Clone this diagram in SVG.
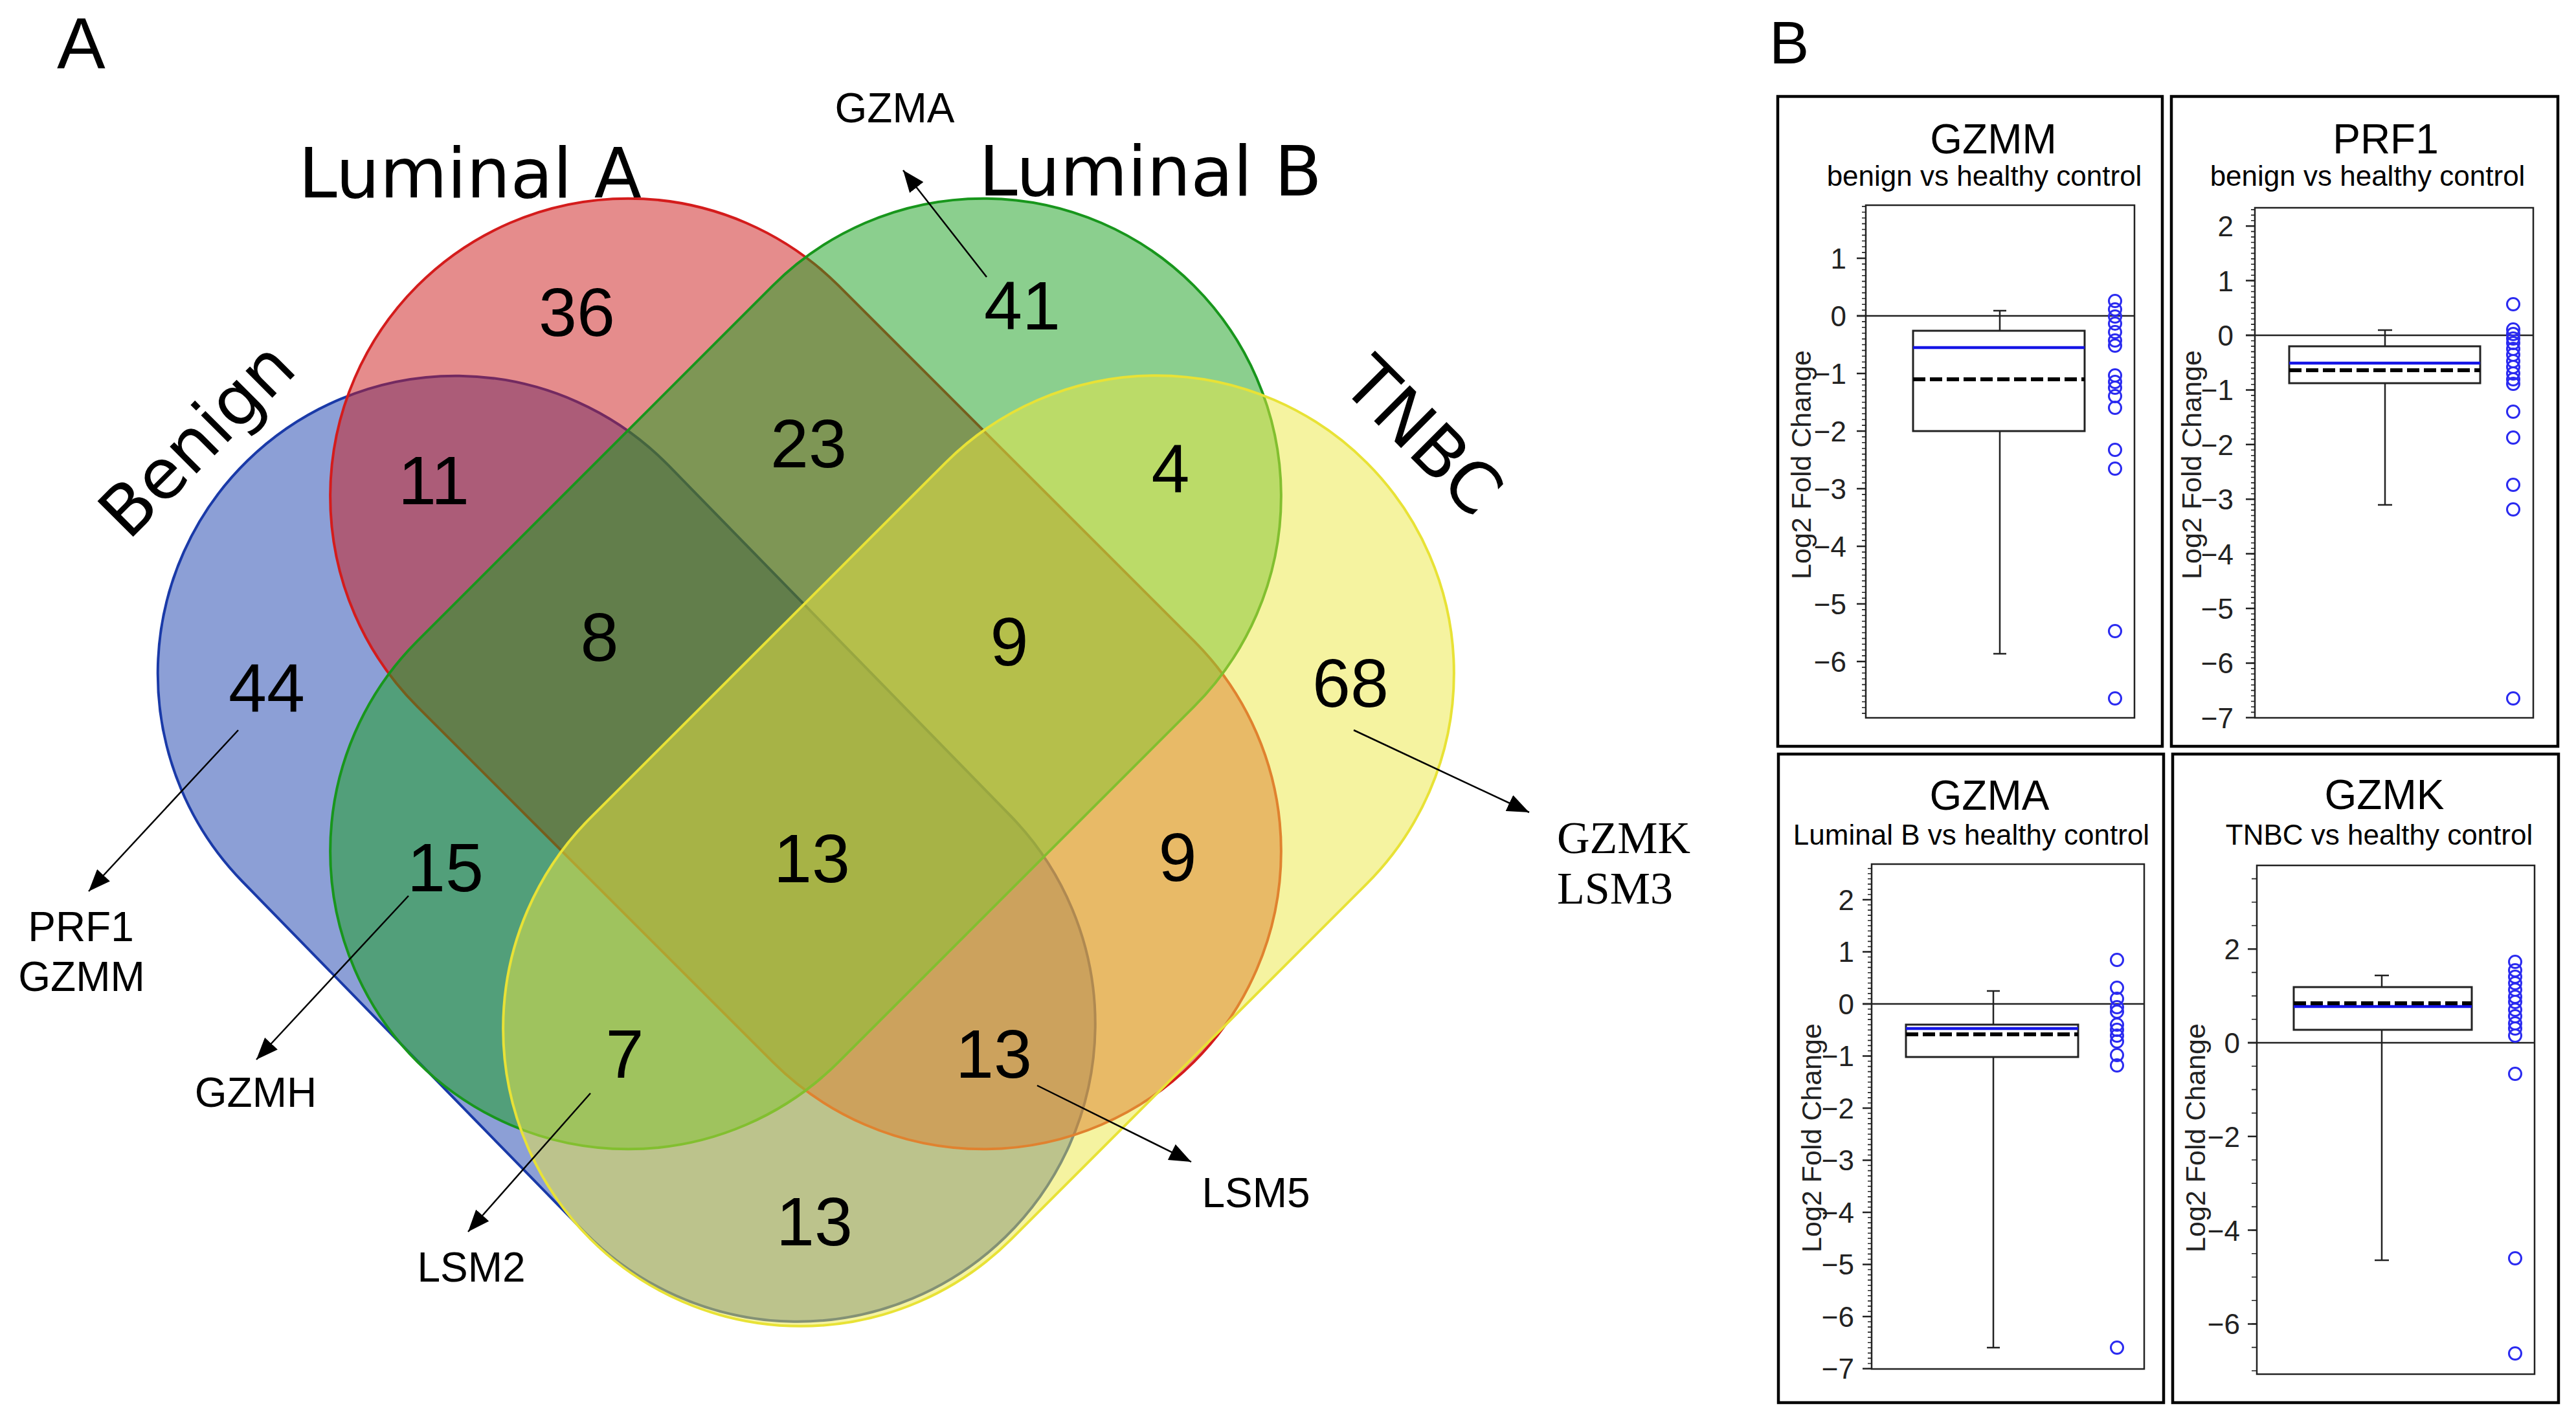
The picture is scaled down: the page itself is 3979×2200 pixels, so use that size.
<svg xmlns="http://www.w3.org/2000/svg" width="3979" height="2200" viewBox="0 0 3979 2200">
<style>
.vt{font-family:"DejaVu Sans",sans-serif;font-size:107px;fill:#000}
.num{font-family:"Liberation Sans",Arial,sans-serif;font-size:106px;text-anchor:middle;fill:#000}
.lbl{font-family:"Liberation Sans",Arial,sans-serif;font-size:64px;text-anchor:middle;fill:#000}
.lbls{font-family:"Liberation Serif","Times New Roman",serif;font-size:70px;fill:#000}
.arr{stroke:#000;stroke-width:2.5;fill:none;marker-end:url(#ah)}
.set{stroke-width:4}
.panel{fill:#fff;stroke:#000;stroke-width:4.5}
.frame{fill:none;stroke:#222;stroke-width:2.5}
.title{font-family:"Liberation Sans",Arial,sans-serif;font-size:64px;text-anchor:middle;fill:#000}
.sub{font-family:"Liberation Sans",Arial,sans-serif;font-size:44px;text-anchor:middle;fill:#000}
.tick{font-family:"Liberation Sans",Arial,sans-serif;font-size:44px;text-anchor:end;fill:#222}
.ylab{font-family:"Liberation Sans",Arial,sans-serif;font-size:43px;text-anchor:middle;fill:#222}
.maj{stroke:#222;stroke-width:2.5;fill:none}
.zero{stroke:#222;stroke-width:2.5}
.box{fill:none;stroke:#222;stroke-width:3}
.mean{stroke:#1515e6;stroke-width:4.5}
.med{stroke:#000;stroke-width:6;stroke-dasharray:19 7}
.pt{fill:none;stroke:#2a2af0;stroke-width:3}
</style>
<defs>
<marker id="ah" viewBox="0 0 10 8" refX="10" refY="4" markerWidth="34" markerHeight="27" markerUnits="userSpaceOnUse" orient="auto"><path d="M0,0L10,4L0,8z" fill="#000"/></marker>
</defs>
<rect width="3979" height="2200" fill="#fff"/>

<text x="88" y="105" style="font-family:'Liberation Sans',Arial,sans-serif;font-size:112px">A</text>
<text x="2733" y="98" style="font-family:'Liberation Sans',Arial,sans-serif;font-size:92px">B</text>

<g id="venn">
<g id="set-benign"><rect class="set" x="-838" y="-460" width="1676" height="920" rx="460" transform="translate(967.75,1311.25) rotate(45.7)" fill="rgb(25,63,173)" fill-opacity="0.5" stroke="#1a3aa8"/></g>
<g id="set-luminalA"><rect class="set" x="-848" y="-460" width="1696" height="920" rx="460" transform="translate(1244.5,1041) rotate(45)" fill="rgb(203,25,25)" fill-opacity="0.5" stroke="#d41c1c"/></g>
<g id="set-luminalB"><rect class="set" x="-848" y="-460" width="1696" height="920" rx="460" transform="translate(1244.5,1041) rotate(-45)" fill="rgb(23,159,29)" fill-opacity="0.5" stroke="#18961c"/></g>
<g id="set-tnbc"><rect class="set" x="-848" y="-460" width="1696" height="920" rx="460" transform="translate(1511.5,1314.5) rotate(-45)" fill="rgb(235,231,65)" fill-opacity="0.5" stroke="#e8e236"/></g>

<text class="vt" x="726" y="305" text-anchor="middle">Luminal A</text>
<text class="vt" x="1777" y="302" text-anchor="middle">Luminal B</text>
<text class="vt" text-anchor="middle" transform="translate(330,705) rotate(-45)">Benign</text>
<text class="vt" text-anchor="middle" transform="translate(2172,700) rotate(45)">TNBC</text>

<text class="num" x="891" y="519">36</text>
<text class="num" x="1579" y="509">41</text>
<text class="num" x="670" y="779">11</text>
<text class="num" x="1249" y="722">23</text>
<text class="num" x="1808" y="761">4</text>
<text class="num" x="926" y="1021">8</text>
<text class="num" x="1559" y="1028">9</text>
<text class="num" x="412" y="1100">44</text>
<text class="num" x="2086" y="1092">68</text>
<text class="num" x="688" y="1377">15</text>
<text class="num" x="1254" y="1363">13</text>
<text class="num" x="1819" y="1361">9</text>
<text class="num" x="965" y="1665">7</text>
<text class="num" x="1535" y="1665">13</text>
<text class="num" x="1258" y="1924">13</text>
</g>

<g id="connectors">
<line class="arr" x1="1524" y1="428" x2="1395" y2="263"/>
<line class="arr" x1="368" y1="1128" x2="137" y2="1377"/>
<line class="arr" x1="631" y1="1384" x2="396" y2="1637"/>
<line class="arr" x1="912" y1="1689" x2="723" y2="1903"/>
<line class="arr" x1="1602" y1="1677" x2="1840" y2="1795"/>
<line class="arr" x1="2091" y1="1128" x2="2362" y2="1255"/>
</g>

<g id="gene-labels">
<text class="lbl" x="1382" y="189">GZMA</text>
<text class="lbl" x="125" y="1454">PRF1</text>
<text class="lbl" x="126" y="1531">GZMM</text>
<text class="lbl" x="395" y="1710">GZMH</text>
<text class="lbl" x="728" y="1980">LSM2</text>
<text class="lbl" x="1940" y="1865">LSM5</text>
<text class="lbls" x="2405" y="1318">GZMK</text>
<text class="lbls" x="2405" y="1396">LSM3</text>
</g>

<!-- Panel GZMM -->
<g id="plot-gzmm">
<rect class="panel" x="2746" y="149" width="594" height="1004"/>
<text class="title" x="3079" y="237">GZMM</text>
<text class="sub" x="3065" y="287">benign vs healthy control</text>
<rect class="frame" x="2882" y="317" width="415" height="792"/>
<line x1="2879" y1="318.1" x2="2879" y2="1109" stroke="#222" stroke-width="6" stroke-dasharray="1.6 7.3"/>
<path class="maj" d="M2868,399h14M2868,488h14M2868,577h14M2868,666h14M2868,755h14M2868,844h14M2868,933h14M2868,1022h14"/>
<text class="tick" x="2852" y="415">1</text>
<text class="tick" x="2852" y="504">0</text>
<text class="tick" x="2852" y="593">−1</text>
<text class="tick" x="2852" y="682">−2</text>
<text class="tick" x="2852" y="771">−3</text>
<text class="tick" x="2852" y="860">−4</text>
<text class="tick" x="2852" y="949">−5</text>
<text class="tick" x="2852" y="1038">−6</text>
<text class="ylab" transform="translate(2797,718) rotate(-90)">Log2 Fold Change</text>
<line class="zero" x1="2868" y1="488" x2="3297" y2="488"/>
<path class="maj" d="M3089,480V511M3079,480h20M3089,666V1010M3079,1010h20"/>
<rect class="box" x="2955" y="511" width="265" height="155"/>
<line class="mean" x1="2955" y1="537" x2="3220" y2="537"/>
<line class="med" x1="2955" y1="586" x2="3220" y2="586"/>
<g class="pt">
<circle cx="3267" cy="465" r="9.5"/><circle cx="3267" cy="478" r="9.5"/><circle cx="3267" cy="489" r="9.5"/><circle cx="3267" cy="500" r="9.5"/><circle cx="3267" cy="513" r="9.5"/><circle cx="3267" cy="526" r="9.5"/><circle cx="3267" cy="534" r="9.5"/><circle cx="3267" cy="580" r="9.5"/><circle cx="3267" cy="590" r="9.5"/><circle cx="3267" cy="599" r="9.5"/><circle cx="3267" cy="612" r="9.5"/><circle cx="3267" cy="630" r="9.5"/><circle cx="3267" cy="695" r="9.5"/><circle cx="3267" cy="724" r="9.5"/><circle cx="3267" cy="975" r="9.5"/><circle cx="3267" cy="1079" r="9.5"/>
</g>
</g>

<!-- Panel PRF1 -->
<g id="plot-prf1">
<rect class="panel" x="3354" y="149" width="597" height="1004"/>
<text class="title" x="3685" y="237">PRF1</text>
<text class="sub" x="3657" y="287">benign vs healthy control</text>
<rect class="frame" x="3483" y="321" width="430" height="788"/>
<line x1="3480" y1="323.1" x2="3480" y2="1109" stroke="#222" stroke-width="6" stroke-dasharray="1.6 6.84"/>
<path class="maj" d="M3469,349.2h14M3469,433.6h14M3469,518h14M3469,602.4h14M3469,686.8h14M3469,771.2h14M3469,855.6h14M3469,940h14M3469,1024.4h14M3469,1108.8h14"/>
<text class="tick" x="3450" y="365">2</text>
<text class="tick" x="3450" y="450">1</text>
<text class="tick" x="3450" y="534">0</text>
<text class="tick" x="3450" y="618">−1</text>
<text class="tick" x="3450" y="703">−2</text>
<text class="tick" x="3450" y="787">−3</text>
<text class="tick" x="3450" y="872">−4</text>
<text class="tick" x="3450" y="956">−5</text>
<text class="tick" x="3450" y="1040">−6</text>
<text class="tick" x="3450" y="1125">−7</text>
<text class="ylab" transform="translate(3400,718) rotate(-90)">Log2 Fold Change</text>
<line class="zero" x1="3469" y1="518" x2="3913" y2="518"/>
<path class="maj" d="M3684,510V535M3673,510h22M3684,592V780M3673,780h22"/>
<rect class="box" x="3536" y="535" width="295" height="57"/>
<line class="mean" x1="3536" y1="561" x2="3831" y2="561"/>
<line class="med" x1="3536" y1="572" x2="3831" y2="572"/>
<g class="pt">
<circle cx="3882" cy="470" r="9.5"/><circle cx="3882" cy="509" r="9.5"/><circle cx="3882" cy="516" r="9.5"/><circle cx="3882" cy="523" r="9.5"/><circle cx="3882" cy="530" r="9.5"/><circle cx="3882" cy="539" r="9.5"/><circle cx="3882" cy="548" r="9.5"/><circle cx="3882" cy="558" r="9.5"/><circle cx="3882" cy="567" r="9.5"/><circle cx="3882" cy="577" r="9.5"/><circle cx="3882" cy="586" r="9.5"/><circle cx="3882" cy="593" r="9.5"/><circle cx="3882" cy="636" r="9.5"/><circle cx="3882" cy="676" r="9.5"/><circle cx="3882" cy="749" r="9.5"/><circle cx="3882" cy="787" r="9.5"/><circle cx="3882" cy="1079" r="9.5"/>
</g>
</g>

<!-- Panel GZMA -->
<g id="plot-gzma">
<rect class="panel" x="2747" y="1165" width="595" height="1002"/>
<text class="title" x="3073" y="1251">GZMA</text>
<text class="sub" x="3045" y="1305">Luminal B vs healthy control</text>
<rect class="frame" x="2891" y="1335" width="421" height="780"/>
<line x1="2888" y1="1340.9" x2="2888" y2="2115" stroke="#222" stroke-width="6" stroke-dasharray="1.6 6.45"/>
<path class="maj" d="M2877,1390h14M2877,1470.5h14M2877,1551h14M2877,1631.5h14M2877,1712h14M2877,1792.5h14M2877,1873h14M2877,1953.5h14M2877,2034h14M2877,2114.5h14"/>
<text class="tick" x="2864" y="1406">2</text>
<text class="tick" x="2864" y="1486">1</text>
<text class="tick" x="2864" y="1567">0</text>
<text class="tick" x="2864" y="1647">−1</text>
<text class="tick" x="2864" y="1728">−2</text>
<text class="tick" x="2864" y="1808">−3</text>
<text class="tick" x="2864" y="1889">−4</text>
<text class="tick" x="2864" y="1969">−5</text>
<text class="tick" x="2864" y="2050">−6</text>
<text class="tick" x="2864" y="2130">−7</text>
<text class="ylab" transform="translate(2813,1758) rotate(-90)">Log2 Fold Change</text>
<line class="zero" x1="2877" y1="1551" x2="3312" y2="1551"/>
<path class="maj" d="M3079,1531V1583M3069,1531h20M3079,1633V2082M3069,2082h20"/>
<rect class="box" x="2944" y="1583" width="266" height="50"/>
<line class="mean" x1="2944" y1="1589" x2="3210" y2="1589"/>
<line class="med" x1="2944" y1="1598" x2="3210" y2="1598"/>
<g class="pt">
<circle cx="3270" cy="1483" r="9.5"/><circle cx="3270" cy="1526" r="9.5"/><circle cx="3270" cy="1543" r="9.5"/><circle cx="3270" cy="1556" r="9.5"/><circle cx="3270" cy="1563" r="9.5"/><circle cx="3270" cy="1583" r="9.5"/><circle cx="3270" cy="1591" r="9.5"/><circle cx="3270" cy="1600" r="9.5"/><circle cx="3270" cy="1609" r="9.5"/><circle cx="3270" cy="1630" r="9.5"/><circle cx="3270" cy="1646" r="9.5"/><circle cx="3270" cy="2082" r="9.5"/>
</g>
</g>

<!-- Panel GZMK -->
<g id="plot-gzmk">
<rect class="panel" x="3356" y="1165" width="596" height="1002"/>
<text class="title" x="3683" y="1250">GZMK</text>
<text class="sub" x="3675" y="1305">TNBC vs healthy control</text>
<rect class="frame" x="3486" y="1337" width="429" height="786"/>
<line x1="3482" y1="1356.8" x2="3482" y2="2123" stroke="#222" stroke-width="8" stroke-dasharray="1.6 34.6"/>
<path class="maj" d="M3472,1466.2h14M3472,1611h14M3472,1755.8h14M3472,1900.6h14M3472,2045.4h14"/>
<text class="tick" x="3460" y="1482">2</text>
<text class="tick" x="3460" y="1627">0</text>
<text class="tick" x="3460" y="1772">−2</text>
<text class="tick" x="3460" y="1917">−4</text>
<text class="tick" x="3460" y="2061">−6</text>
<text class="ylab" transform="translate(3406,1758) rotate(-90)">Log2 Fold Change</text>
<line class="zero" x1="3472" y1="1611" x2="3915" y2="1611"/>
<path class="maj" d="M3679,1507V1525M3668,1507h22M3679,1591V1947M3668,1947h22"/>
<rect class="box" x="3543" y="1525" width="275" height="66"/>
<line class="mean" x1="3543" y1="1555" x2="3818" y2="1555"/>
<line class="med" x1="3543" y1="1550" x2="3818" y2="1550"/>
<g class="pt">
<circle cx="3885" cy="1486" r="9.5"/><circle cx="3885" cy="1499" r="9.5"/><circle cx="3885" cy="1509" r="9.5"/><circle cx="3885" cy="1519" r="9.5"/><circle cx="3885" cy="1529" r="9.5"/><circle cx="3885" cy="1540" r="9.5"/><circle cx="3885" cy="1548" r="9.5"/><circle cx="3885" cy="1560" r="9.5"/><circle cx="3885" cy="1570" r="9.5"/><circle cx="3885" cy="1581" r="9.5"/><circle cx="3885" cy="1589" r="9.5"/><circle cx="3885" cy="1600" r="9.5"/><circle cx="3885" cy="1659" r="9.5"/><circle cx="3885" cy="1944" r="9.5"/><circle cx="3885" cy="2091" r="9.5"/>
</g>
</g>
</svg>
